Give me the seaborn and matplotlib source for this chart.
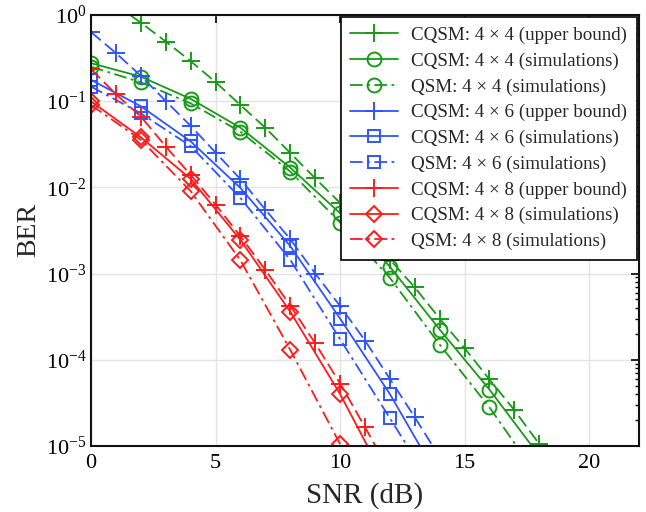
import matplotlib
matplotlib.use("Agg")
import matplotlib.pyplot as plt
import seaborn as sns
import numpy as np
import pandas as pd
from matplotlib.ticker import LogLocator, FixedLocator

# ---------------- data ----------------
snr_g_ub = [1, 2, 3, 4, 5, 6, 7, 8, 9, 10, 11, 12, 13, 14, 15, 16, 17, 18, 19]
ber_g_ub = [1.3, 0.81, 0.49, 0.29, 0.166, 0.0896, 0.049, 0.025, 0.0127, 6.6e-3,
            3.1e-3, 1.45e-3, 6.9e-4, 3.0e-4, 1.36e-4, 5.9e-5, 2.6e-5, 1.05e-5, 4.5e-6]
snr_g_sim = [0, 2, 4, 6, 8, 10, 12, 14, 16, 18]
ber_g_cqsm = [0.275, 0.192, 0.106, 0.049, 0.0169, 5.0e-3, 1.2e-3, 2.24e-4, 4.5e-5, 7.7e-6]
ber_g_qsm = [0.25, 0.165, 0.094, 0.044, 0.0152, 3.9e-3, 8.9e-4, 1.5e-4, 2.8e-5, 4.2e-6]

snr_b_ub = [0, 1, 2, 3, 4, 5, 6, 7, 8, 9, 10, 11, 12, 13, 14]
ber_b_ub = [0.63, 0.36, 0.196, 0.1, 0.0515, 0.0253, 0.0124, 5.5e-3, 2.5e-3, 1.0e-3,
            4.2e-4, 1.67e-4, 6.0e-5, 2.15e-5, 7.4e-6]
snr_b_sim = [0, 2, 4, 6, 8, 10, 12, 14]
ber_b_cqsm = [0.176, 0.087, 0.034, 9.8e-3, 2.08e-3, 3.0e-4, 4.0e-5, 4.0e-6]
ber_b_qsm = [0.147, 0.072, 0.030, 7.5e-3, 1.44e-3, 1.73e-4, 2.1e-5, 2.5e-6]

snr_r_ub = [0, 1, 2, 3, 4, 5, 6, 7, 8, 9, 10, 11, 12]
ber_r_ub = [0.234, 0.12, 0.066, 0.0297, 0.0139, 6.3e-3, 2.7e-3, 1.1e-3, 4.24e-4,
            1.55e-4, 5.3e-5, 1.65e-5, 5.0e-6]
snr_r_cqsm = [0, 2, 4, 6, 8, 10, 12]
ber_r_cqsm = [0.099, 0.038, 0.0125, 2.45e-3, 3.6e-4, 4.0e-5, 3.2e-6]
snr_r_qsm = [0, 2, 4, 6, 8, 10]
ber_r_qsm = [0.09, 0.0355, 9.0e-3, 1.42e-3, 1.3e-4, 1.05e-5]

labels = ["CQSM: 4 × 4 (upper bound)", "CQSM: 4 × 4 (simulations)", "QSM: 4 × 4 (simulations)",
          "CQSM: 4 × 6 (upper bound)", "CQSM: 4 × 6 (simulations)", "QSM: 4 × 6 (simulations)",
          "CQSM: 4 × 8 (upper bound)", "CQSM: 4 × 8 (simulations)", "QSM: 4 × 8 (simulations)"]

x_ticks = [0, 5, 10, 15, 20]

# ---------------- style ----------------
sns.set_theme(style="white")
plt.rcParams["font.family"] = ["Liberation Serif", "DejaVu Serif"]
plt.rcParams["mathtext.fontset"] = "stix"

GREEN = "#189a18"
BLUE = "#2f54ff"
RED = "#ff1a1a"

dash_ub = (0, (7, 3))
dash_qsm = (0, (7, 2.5, 1.5, 2.5))

fig = plt.figure(figsize=(6.46, 5.12), dpi=100)
ax = fig.add_axes([0.141, 0.129, 0.848, 0.842])

series = [
    (snr_g_ub, ber_g_ub, GREEN, "+", dash_ub, 13),
    (snr_g_sim, ber_g_cqsm, GREEN, "o", "-", 10),
    (snr_g_sim, ber_g_qsm, GREEN, "o", dash_qsm, 10),
    (snr_b_ub, ber_b_ub, BLUE, "+", dash_ub, 13),
    (snr_b_sim, ber_b_cqsm, BLUE, "s", "-", 8),
    (snr_b_sim, ber_b_qsm, BLUE, "s", dash_qsm, 8),
    (snr_r_ub, ber_r_ub, RED, "+", dash_ub, 13),
    (snr_r_cqsm, ber_r_cqsm, RED, "D", "-", 8.5),
    (snr_r_qsm, ber_r_qsm, RED, "D", dash_qsm, 8.5),
]

for (xs, ys, col, mk, ls, ms), lab in zip(series, labels):
    df = pd.DataFrame({"SNR": xs, "BER": ys})
    sns.lineplot(data=df, x="SNR", y="BER", ax=ax, color=col, marker=mk,
                 linestyle=ls, linewidth=1.3, markersize=ms,
                 markerfacecolor="none", markeredgecolor=col,
                 markeredgewidth=1.4, label=lab, sort=True, errorbar=None)

ax.set_yscale("log")
ax.set_xlim(0, 22)
ax.set_ylim(1e-5, 1)
ax.xaxis.set_major_locator(FixedLocator(x_ticks))
ax.yaxis.set_major_locator(LogLocator(base=10, numticks=10))
ax.yaxis.set_minor_locator(LogLocator(base=10, subs=np.arange(2, 10), numticks=20))

ax.grid(True, which="major", color="#e3e3e3", linewidth=1.0)
ax.set_axisbelow(True)
for s in ax.spines.values():
    s.set_color("#111111")
    s.set_linewidth(1.5)
    s.set_visible(True)

ax.tick_params(which="both", direction="in", top=True, right=True, colors="black",
               labelsize=16)
ax.tick_params(which="major", length=6, width=1.2)
ax.tick_params(which="minor", length=3, width=1.0)
ax.tick_params(axis="x", which="major", pad=6)

ax.set_xlabel("SNR (dB)", fontsize=21, labelpad=6)
ax.set_ylabel("BER", fontsize=20, labelpad=3)

leg = ax.legend(loc="upper right", fontsize=13.7, frameon=True, fancybox=False,
                edgecolor="black", framealpha=1, borderaxespad=0.12,
                handlelength=2.5, labelspacing=0.44, borderpad=0.5, handletextpad=0.7)
leg.get_frame().set_linewidth(1.2)
for i, ln in enumerate(leg.get_lines()):
    if i % 3 == 0:
        ln.set_linestyle("-")

fig.savefig("out.png", dpi=100)
